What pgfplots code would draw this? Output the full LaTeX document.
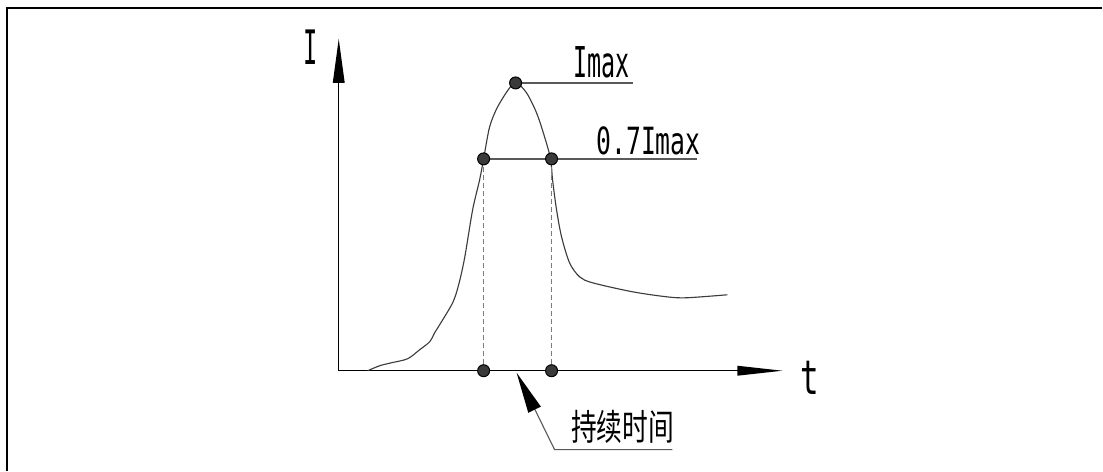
\documentclass[border=0pt]{standalone}
\usepackage{pgfplots}
\pgfplotsset{compat=1.18}
\usepackage{fontspec}
\newfontfamily\cjk{Noto Sans CJK SC}
\newfontfamily\monof{DejaVu Sans Mono}
\definecolor{curvec}{HTML}{3C3C3C}
\definecolor{linec}{HTML}{5A5A5A}
\definecolor{dotc}{HTML}{3A3A3A}
\begin{document}
\begin{tikzpicture}
\begin{axis}[
  at={(0,0)}, anchor=south west,
  scale only axis, width=441.2pt, height=188.4pt,
  xmin=0, xmax=1103, ymin=0, ymax=471, y dir=reverse,
  hide axis, clip=false,
]
\path (axis cs:0,0) rectangle (axis cs:1103,471);
% frame (left and top)
\draw[line width=0.7pt] (axis cs:7,471) -- (axis cs:7,8) -- (axis cs:1103,8);
% axes
\draw[line width=0.45pt] (axis cs:339,371) -- (axis cs:339,80);
\fill (axis cs:339,39) -- (axis cs:333,83) -- (axis cs:345,83) -- cycle;
\draw[line width=0.45pt] (axis cs:339,371) -- (axis cs:740,371);
\fill (axis cs:783,371) -- (axis cs:738,366) -- (axis cs:738,376) -- cycle;
% curve
\addplot[smooth, color=curvec, line width=0.45pt, no marks] coordinates {
(368,371)(380,366)(392,363)(408,359)(420,350)(430,342)(435,333)(440,325)
(453,303)(459,285)(465,258)(473,210)(480,180)(484,159)(490,127)(498,107)
(510,88)(517,83)(527,93)(537,113)(545,137)(551,159)(553,180)(557,210)
(562,237)(570,263)(580,277)(593,283)(633,292)(667,297)(687,298)(728,295)};
% reference lines
\addplot[color=linec, line width=0.5pt, no marks] coordinates {(516,83)(633,83)};
\addplot[color=linec, line width=0.5pt, no marks] coordinates {(484,159)(698,159)};
\addplot[color=linec!80, line width=0.45pt, dash pattern=on 2pt off 1.2pt, no marks] coordinates {(484,159)(484,371)};
\addplot[color=linec!80, line width=0.45pt, dash pattern=on 2pt off 1.2pt, no marks] coordinates {(552,159)(552,371)};
% leader
\addplot[color=linec, line width=0.45pt, no marks] coordinates {(533,405)(555,450)(673,450)};
\fill (axis cs:517,373) -- (axis cs:528.7,413.1) -- (axis cs:541.3,406.9) -- cycle;
% points
\addplot[only marks, mark=*, mark size=2.4pt, mark options={fill=dotc, draw=black, line width=0.4pt}]
  coordinates {(516,83)(484,159)(552,159)(484,371)(552,371)};
% labels
\node[font=\monof\fontsize{19pt}{19pt}\selectfont, xscale=0.5, inner sep=0] at (axis cs:311,47) {I};
\node[font=\monof\fontsize{17pt}{17pt}\selectfont, xscale=0.55, inner sep=0] at (axis cs:602,62) {Imax};
\node[font=\monof\fontsize{15pt}{15pt}\selectfont, xscale=0.66, inner sep=0] at (axis cs:649,141) {0.7Imax};
\node[font=\monof\fontsize{19pt}{19pt}\selectfont, xscale=0.65, inner sep=0] at (axis cs:810,378) {t};
\node[font=\cjk\fontsize{10.3pt}{10.3pt}\selectfont, yscale=1.4, inner sep=0] at (axis cs:623,427) {持续时间};
\end{axis}
\end{tikzpicture}
\end{document}
